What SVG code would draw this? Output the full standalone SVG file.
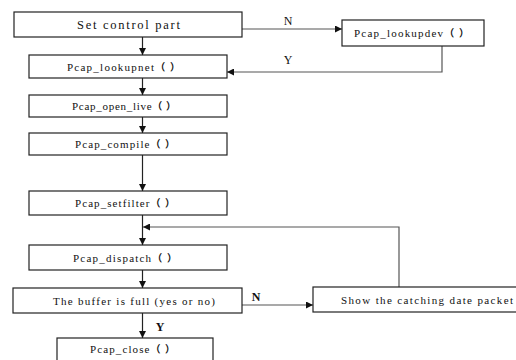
<svg xmlns="http://www.w3.org/2000/svg" width="516" height="360" viewBox="0 0 516 360">
<defs>
<marker id="ah" viewBox="0 0 10 10" refX="10" refY="5" markerWidth="7" markerHeight="7" markerUnits="userSpaceOnUse" orient="auto">
<path d="M0,0 L10,5 L0,10 z" fill="#111"/>
</marker>
<style>
.box{fill:#fff;stroke:#222;stroke-width:1.2}
.lab{font-family:"Liberation Serif","Times New Roman",serif;fill:#111;font-size:11px;text-anchor:middle}
.big{font-size:12.5px}
.par{font-family:"Noto Sans CJK SC","Noto Sans CJK JP",sans-serif;font-weight:bold;font-size:10px}
.lbl{font-family:"Liberation Serif","Times New Roman",serif;fill:#111;font-size:12px;text-anchor:middle}
.b{font-weight:bold}
.c{fill:none;stroke:#222;stroke-width:1.2}
.g{stroke:#555}
</style>
</defs>
<rect width="516" height="360" fill="#fff"/>
<g id="connectors">
<line class="c" x1="142.5" y1="37" x2="142.5" y2="55" marker-end="url(#ah)"/>
<line class="c" x1="142.5" y1="78" x2="142.5" y2="95" marker-end="url(#ah)"/>
<line class="c" x1="142.5" y1="117" x2="142.5" y2="133" marker-end="url(#ah)"/>
<line class="c" x1="142.5" y1="155" x2="142.5" y2="191" marker-end="url(#ah)"/>
<line class="c" x1="142.5" y1="215" x2="142.5" y2="245" marker-end="url(#ah)"/>
<line class="c" x1="142.5" y1="270" x2="142.5" y2="288" marker-end="url(#ah)"/>
<line class="c" x1="142.5" y1="313" x2="142.5" y2="338" marker-end="url(#ah)"/>
<line class="c g" x1="242" y1="29" x2="342" y2="29" marker-end="url(#ah)"/>
<polyline class="c g" points="442,46 442,72 227,72" marker-end="url(#ah)"/>
<line class="c g" x1="242" y1="305" x2="313" y2="305" marker-end="url(#ah)"/>
<polyline class="c g" points="399,287 399,227 143,227" marker-end="url(#ah)"/>
<text class="lbl" x="288" y="25">N</text>
<text class="lbl" x="288" y="64">Y</text>
<text class="lbl b" x="256" y="301">N</text>
<text class="lbl b" x="160" y="331">Y</text>
</g>
<g id="n1"><rect class="box" x="14" y="12" width="228" height="25"/><text class="lab big" x="128.5" y="28.5" textLength="103" lengthAdjust="spacing">Set control part</text></g>
<g id="n2"><rect class="box" x="29" y="55" width="198" height="23"/><text class="lab" x="123.5" y="70.5" textLength="113" lengthAdjust="spacing">Pcap_lookupnet<tspan class="par">（ ）</tspan></text></g>
<g id="n3"><rect class="box" x="29" y="95" width="198" height="22"/><text class="lab" x="124" y="110" textLength="104" lengthAdjust="spacing">Pcap_open_live<tspan class="par">（ ）</tspan></text></g>
<g id="n4"><rect class="box" x="29" y="133" width="198" height="22"/><text class="lab" x="125" y="148" textLength="100" lengthAdjust="spacing">Pcap_compile<tspan class="par">（ ）</tspan></text></g>
<g id="n5"><rect class="box" x="29" y="191" width="198" height="24"/><text class="lab" x="125" y="207" textLength="100" lengthAdjust="spacing">Pcap_setfilter<tspan class="par">（ ）</tspan></text></g>
<g id="n6"><rect class="box" x="29" y="245" width="198" height="25"/><text class="lab" x="125" y="261.5" textLength="104" lengthAdjust="spacing">Pcap_dispatch<tspan class="par">（ ）</tspan></text></g>
<g id="n7"><rect class="box" x="13" y="288" width="229" height="25"/><text class="lab" x="134" y="304.5" textLength="162" lengthAdjust="spacing">The buffer is full (yes or no)</text></g>
<g id="n8"><rect class="box" x="57" y="338" width="156" height="30"/><text class="lab" x="132.5" y="352.5" textLength="85" lengthAdjust="spacing">Pcap_close<tspan class="par">（ ）</tspan></text></g>
<g id="n9"><rect class="box" x="342" y="20" width="142" height="26"/><text class="lab" x="411.5" y="36.5" textLength="115" lengthAdjust="spacing">Pcap_lookupdev<tspan class="par">（ ）</tspan></text></g>
<g id="n10"><rect class="box" x="313" y="287" width="210" height="25"/><text class="lab" x="427" y="303.5" textLength="172" lengthAdjust="spacing">Show the catching date packet</text></g>
</svg>
